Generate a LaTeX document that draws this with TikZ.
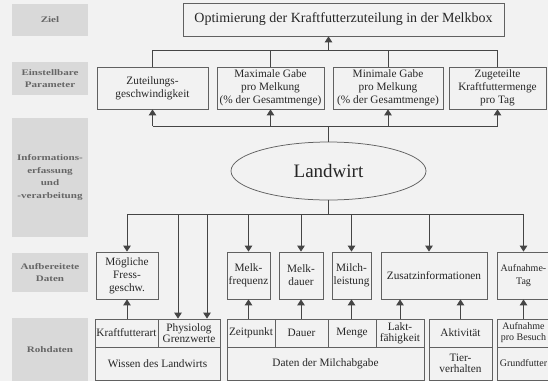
\documentclass[tikz,border=0pt]{standalone}
\usepackage{fontspec}
\setmainfont{Liberation Serif}
\newfontfamily\lblfont[FakeStretch=1.3]{Liberation Serif}
\usetikzlibrary{arrows.meta,shapes.geometric}
\definecolor{bg}{HTML}{F2F2F2}
\definecolor{lbl}{HTML}{D9D9D9}
\definecolor{ln}{HTML}{454545}
\definecolor{lbltext}{HTML}{666666}
\tikzset{
 box/.style={draw=ln!85, line width=0.75pt, inner sep=0pt, align=center, font=\fontsize{11.3}{12.8}\selectfont, text=black!85},
 cell/.style={box, font=\fontsize{11.3}{11}\selectfont},
 edgecell/.style={box, font=\fontsize{10}{11}\selectfont},
 lblbox/.style={fill=lbl, inner sep=0pt, minimum width=76pt, align=center, font=\lblfont\bfseries\fontsize{8.5}{12.5}\selectfont, text=lbltext},
 conn/.style={ln, line width=1pt},
 arr/.style={conn, -{Triangle[width=7.5pt,length=6pt]}},
}
\begin{document}
\begin{tikzpicture}[x=1pt,y=-1pt]
\fill[bg] (0,0) rectangle (548,381);
\useasboundingbox (0,0) rectangle (548,381);

% left labels
\node[lblbox, minimum height=32pt] (lz) at (50,20) {Ziel};
\node[lblbox, minimum height=33pt] (lp) at (50,78.5) {Einstellbare\\Parameter};
\node[lblbox, minimum height=119pt] (li) at (50,177.5) {Informations-\\erfassung\\und\\-verarbeitung};
\node[lblbox, minimum height=39pt] (la) at (50,272.5) {Aufbereitete\\Daten};
\node[lblbox, minimum height=63pt] (lr) at (50,349.5) {Rohdaten};

% goal
\node[box, minimum width=321pt, minimum height=33pt, font=\fontsize{14}{16}\selectfont] (ziel) at (343.5,19.5) {Optimierung der Kraftfutterzuteilung in der Melkbox};

% parameters
\node[box, minimum width=111pt, minimum height=42pt] (zut) at (152.5,88) {Zuteilungs-\\geschwindigkeit};
\node[box, minimum width=107pt, minimum height=42pt] (pmax) at (270.5,88) {Maximale Gabe\\pro Melkung\\(\% der Gesamtmenge)};
\node[box, minimum width=110pt, minimum height=42pt] (pmin) at (388,88) {Minimale Gabe\\pro Melkung\\(\% der Gesamtmenge)};
\node[box, minimum width=97pt, minimum height=42pt] (zug) at (497.5,88) {Zugeteilte\\Kraftfuttermenge\\pro Tag};

% farmer
\node[draw=ln!85, line width=0.75pt, ellipse, minimum width=195pt, minimum height=58pt, inner sep=0pt, font=\fontsize{19}{21}\selectfont, text=black!85] (lw) at (328.5,171) {Landwirt};

% processed data
\node[box, minimum width=62pt, minimum height=47pt] (moeg) at (127,275.5) {Mögliche\\Fress-\\geschw.};
\node[box, minimum width=43pt, minimum height=47pt] (mfreq) at (248.5,275.5) {Melk-\\frequenz};
\node[box, minimum width=44pt, minimum height=47pt] (mdauer) at (301,275.5) {Melk-\\dauer};
\node[box, minimum width=39pt, minimum height=47pt] (mleist) at (351.5,275.5) {Milch-\\leistung};
\node[box, minimum width=106pt, minimum height=47pt] (zusatz) at (434,275.5) {Zusatzinformationen};
\node[edgecell, minimum width=53pt, minimum height=47pt, font=\fontsize{10}{12.8}\selectfont] (aufntag) at (523.5,275.5) {Aufnahme-\\Tag};

% raw data
\node[cell, minimum width=125pt, minimum height=33pt] (wissen) at (157.5,363.5) {Wissen des Landwirts};
\node[cell, minimum width=63pt, minimum height=28pt] (kfart) at (126.5,333) {Kraftfutterart};
\node[cell, minimum width=62pt, minimum height=28pt] (phys) at (189,333) {Physiolog\\Grenzwerte};
\node[cell, minimum width=197pt, minimum height=33pt] (daten) at (325.5,363.5) {Daten der Milchabgabe};
\node[cell, minimum width=48pt, minimum height=28pt] (zeit) at (251,333) {Zeitpunkt};
\node[cell, minimum width=53pt, minimum height=28pt] (dauer) at (301.5,333) {Dauer};
\node[cell, minimum width=48pt, minimum height=28pt] (menge) at (352,333) {Menge};
\node[cell, minimum width=48pt, minimum height=28pt] (lakt) at (400,333) {Lakt-\\fähigkeit};
\node[cell, minimum width=63pt, minimum height=33pt] (tier) at (460.5,363.5) {Tier-\\verhalten};
\node[cell, minimum width=63pt, minimum height=28pt] (akt) at (460.5,333) {Aktivität};
\node[edgecell, minimum width=53pt, minimum height=33pt] (grund) at (523.5,363.5) {Grundfutter};
\node[edgecell, minimum width=53pt, minimum height=28pt] (aufnb) at (523.5,333) {Aufnahme\\pro Besuch};

% bus levels
\coordinate (b0) at (0,50);
\coordinate (b1) at (0,126);
\coordinate (b2) at (0,214);

% parameters -> goal
\draw[conn] (zut.north |- b0) -- (zug.north |- b0);
\foreach \n in {zut,pmax,pmin,zug} \draw[conn] (\n.north) -- (\n.north |- b0);
\draw[arr] (lw.north |- b0) -- (lw.north |- ziel.south);

% farmer -> parameters
\draw[conn] (lw.north) -- (lw.north |- b1);
\draw[conn] (zut.south |- b1) -- (zug.south |- b1);
\foreach \n in {zut,pmax,pmin,zug} \draw[arr] (\n.south |- b1) -- (\n.south);

% farmer -> processed data
\coordinate (zt) at ([xshift=-5pt]zusatz.north);
\coordinate (p1) at ([xshift=-11pt]phys.north);
\coordinate (p2) at ([xshift=18pt]phys.north);
\draw[conn] (lw.south) -- (lw.south |- b2);
\draw[conn] (moeg.north |- b2) -- (aufntag.north |- b2);
\foreach \n in {moeg,mfreq,mdauer,mleist,aufntag} \draw[arr] (\n.north |- b2) -- (\n.north);
\draw[arr] (zt |- b2) -- (zt);
\draw[arr] (p1 |- b2) -- (p1);
\draw[arr] (p2 |- b2) -- (p2);

% raw -> processed
\draw[arr] (kfart.north -| moeg.south) -- (moeg.south);
\draw[arr] (zeit.north -| mfreq.south) -- (mfreq.south);
\draw[arr] (dauer.north -| mdauer.south) -- (mdauer.south);
\draw[arr] (menge.north -| mleist.south) -- (mleist.south);
\draw[arr] (lakt.north) -- (lakt.north |- zusatz.south);
\draw[arr] (akt.north) -- (akt.north |- zusatz.south);
\draw[arr] (aufnb.north) -- (aufntag.south);
\end{tikzpicture}
\end{document}
